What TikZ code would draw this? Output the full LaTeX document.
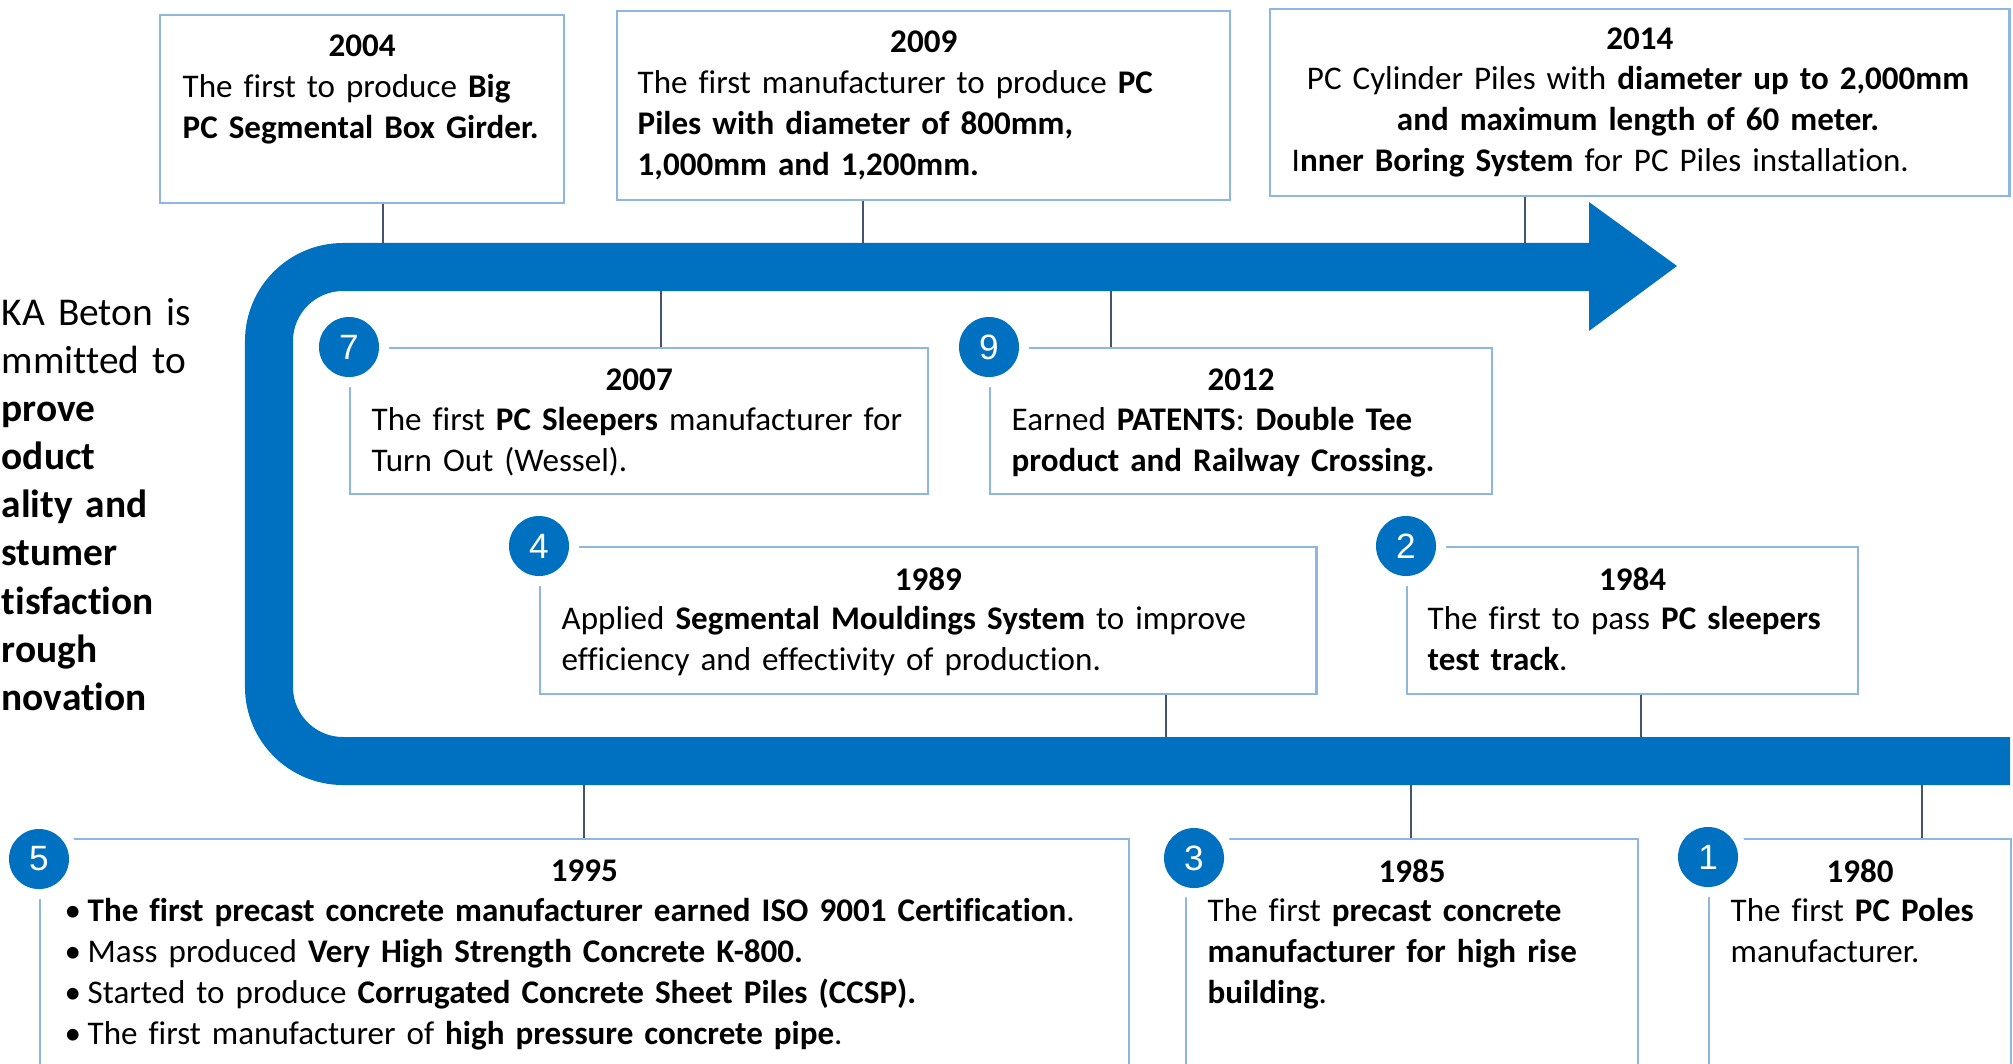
\documentclass[tikz,border=0pt]{standalone}
\usepackage{fontspec}
\setmainfont{Carlito}[Ligatures=NoCommon]
\newfontfamily\numfont{Liberation Sans}
\usetikzlibrary{positioning}
\definecolor{wbblue}{HTML}{0070C0}
\definecolor{wbframe}{HTML}{8DB6E2}
\definecolor{wbtick}{HTML}{44546A}

\begin{document}
\begin{tikzpicture}[
  x=0.01cm, y=-0.01cm,
  every node/.style={font=\fontsize{9.4}{11.66}\selectfont},
  yrbox/.style={rectangle, draw=wbframe, line width=0.6pt, anchor=north west, inner sep=0pt},
  yrlbl/.style={font=\fontsize{9.4}{11.66}\selectfont\bfseries, inner sep=0pt},
  bodytxt/.style={anchor=base west, align=left, text width=11cm, inner sep=0pt},
  numdot/.style={circle, fill=wbblue, text=white, minimum size=0.6cm, inner sep=0pt,
    font=\numfont\fontsize{10}{12}\selectfont, preaction={draw=white, line width=0.2cm}},
  tickln/.style={draw=wbtick, line width=0.6pt},
  bandln/.style={draw=wbblue, line width=0.48cm, rounded corners=0.74cm},
]
\useasboundingbox (0,0) rectangle (2013,1063);

% the U shaped band with its arrow head
\draw[bandln] (2010,761) -- (269,761) -- (269,267) -- (1590,267);
\fill[wbblue] (1589,202) -- (1677,266) -- (1589,331) -- cycle;

% statement on the left (cut by the page edge)
\node[anchor=base west, align=left, text width=3cm, inner sep=0pt,
  font=\fontsize{11.2}{13.7}\selectfont] (motto) at (1,325)
  {KA Beton is\\mmitted to\\\textbf{prove}\\\textbf{oduct}\\\textbf{ality and}\\\textbf{stumer}\\\textbf{tisfaction}\\\textbf{rough}\\\textbf{novation}};

% boxes above the band
\node[yrbox, minimum width=4.04cm, minimum height=1.88cm] (b2004) at (159,14) {};
\node[yrbox, minimum width=6.13cm, minimum height=1.89cm] (b2009) at (616,10) {};
\node[yrbox, minimum width=7.39cm, minimum height=1.87cm] (b2014) at (1269,8) {};

% boxes inside the U
\node[yrbox, minimum width=5.78cm, minimum height=1.46cm] (b2007) at (349,347) {};
\node[yrbox, minimum width=5.02cm, minimum height=1.46cm] (b2012) at (989,347) {};
\node[yrbox, minimum width=7.76cm, minimum height=1.47cm] (b1989) at (539,546) {};
\node[yrbox, minimum width=4.51cm, minimum height=1.47cm] (b1984) at (1406,546) {};

% boxes below the band
\node[yrbox, minimum width=10.88cm, minimum height=3cm] (b1995) at (39,838) {};
\node[yrbox, minimum width=4.52cm, minimum height=3cm] (b1985) at (1185,838) {};
\node[yrbox, minimum width=3.02cm, minimum height=3cm] (b1980) at (1708,838) {};

% points where the ticks meet the band
\coordinate (t2004) at (383,243);
\coordinate (t2009) at (863,243);
\coordinate (t2014) at (1525,243);
\coordinate (t2007) at (661,291);
\coordinate (t2012) at (1111,291);
\coordinate (t1989) at (1166,737);
\coordinate (t1984) at (1641,737);
\coordinate (t1995) at (584,785);
\coordinate (t1985) at (1411,785);
\coordinate (t1980) at (1922,785);

\draw[tickln] (b2004.south -| t2004) -- (t2004);
\draw[tickln] (b2009.south -| t2009) -- (t2009);
\draw[tickln] (b2014.south -| t2014) -- (t2014);
\draw[tickln] (t2007) -- (b2007.north -| t2007);
\draw[tickln] (t2012) -- (b2012.north -| t2012);
\draw[tickln] (b1989.south -| t1989) -- (t1989);
\draw[tickln] (b1984.south -| t1984) -- (t1984);
\draw[tickln] (t1995) -- (b1995.north -| t1995);
\draw[tickln] (t1985) -- (b1985.north -| t1985);
\draw[tickln] (t1980) -- (b1980.north -| t1980);

% years
\node[yrlbl] (y2004) at ([yshift=-0.315cm]b2004.north) {2004};
\node[yrlbl] (y2009) at ([yshift=-0.32cm]b2009.north) {2009};
\node[yrlbl] (y2014) at ([yshift=-0.31cm]b2014.north) {2014};
\node[yrlbl] (y2007) at ([yshift=-0.33cm]b2007.north) {2007};
\node[yrlbl] (y2012) at ([yshift=-0.33cm]b2012.north) {2012};
\node[yrlbl] (y1989) at ([yshift=-0.33cm]b1989.north) {1989};
\node[yrlbl] (y1984) at ([yshift=-0.33cm]b1984.north) {1984};
\node[yrlbl] (y1995) at ([yshift=-0.33cm]b1995.north) {1995};
\node[yrlbl] (y1985) at ([yshift=-0.33cm]b1985.north) {1985};
\node[yrlbl] (y1980) at ([yshift=-0.33cm]b1980.north) {1980};

% texts
\node[bodytxt] (d2004) at (182,97) {The first to produce \textbf{Big}\\\textbf{PC Segmental Box Girder.}};
\node[bodytxt] (d2009) at (637,93) {The first manufacturer to produce \textbf{PC}\\\textbf{Piles with diameter of 800mm,}\\\textbf{1,000mm and 1,200mm.}};
\node[anchor=base, align=center, text width=7cm, inner sep=0pt] (d2014) at (1638,89)
  {PC Cylinder Piles with \textbf{diameter up to 2,000mm}\\\textbf{and maximum length of 60 meter.}};
\node[bodytxt] (e2014) at (1291,171) {I\textbf{nner Boring System} for PC Piles installation.};
\node[bodytxt] (d2007) at (371,430) {The first \textbf{PC Sleepers} manufacturer for\\Turn Out (Wessel).};
\node[bodytxt] (d2012) at (1011,430) {Earned \textbf{PATENTS}: \textbf{Double Tee}\\\textbf{product and Railway Crossing.}};
\node[bodytxt] (d1989) at (561,629) {Applied \textbf{Segmental Mouldings System} to improve\\efficiency and effectivity of production.};
\node[bodytxt] (d1984) at (1427,629) {The first to pass \textbf{PC sleepers}\\\textbf{test track}.};
\node[bodytxt] (d1995) at (64,921)
  {\makebox[0.23cm][l]{•}\textbf{The first precast concrete manufacturer earned ISO 9001 Certification}.\\
   \makebox[0.23cm][l]{•}Mass produced \textbf{Very High Strength Concrete K-800.}\\
   \makebox[0.23cm][l]{•}Started to produce \textbf{Corrugated Concrete Sheet Piles (CCSP).}\\
   \makebox[0.23cm][l]{•}The first manufacturer of \textbf{high pressure concrete pipe}.};
\node[bodytxt] (d1985) at (1207,921) {The first \textbf{precast concrete}\\\textbf{manufacturer for high rise}\\\textbf{building}.};
\node[bodytxt] (d1980) at (1730,921) {The first \textbf{PC Poles}\\manufacturer.};

% numbered markers
\node[numdot] (n7) at (b2007.north west) {7};
\node[numdot] (n9) at (b2012.north west) {9};
\node[numdot] (n4) at (b1989.north west) {4};
\node[numdot] (n2) at (b1984.north west) {2};
\node[numdot] (n5) at ([yshift=-0.21cm]b1995.north west) {5};
\node[numdot] (n3) at ([yshift=-0.2cm, xshift=0.09cm]b1985.north west) {3};
\node[numdot] (n1) at ([yshift=-0.19cm]b1980.north west) {1};

\end{tikzpicture}
\end{document}
